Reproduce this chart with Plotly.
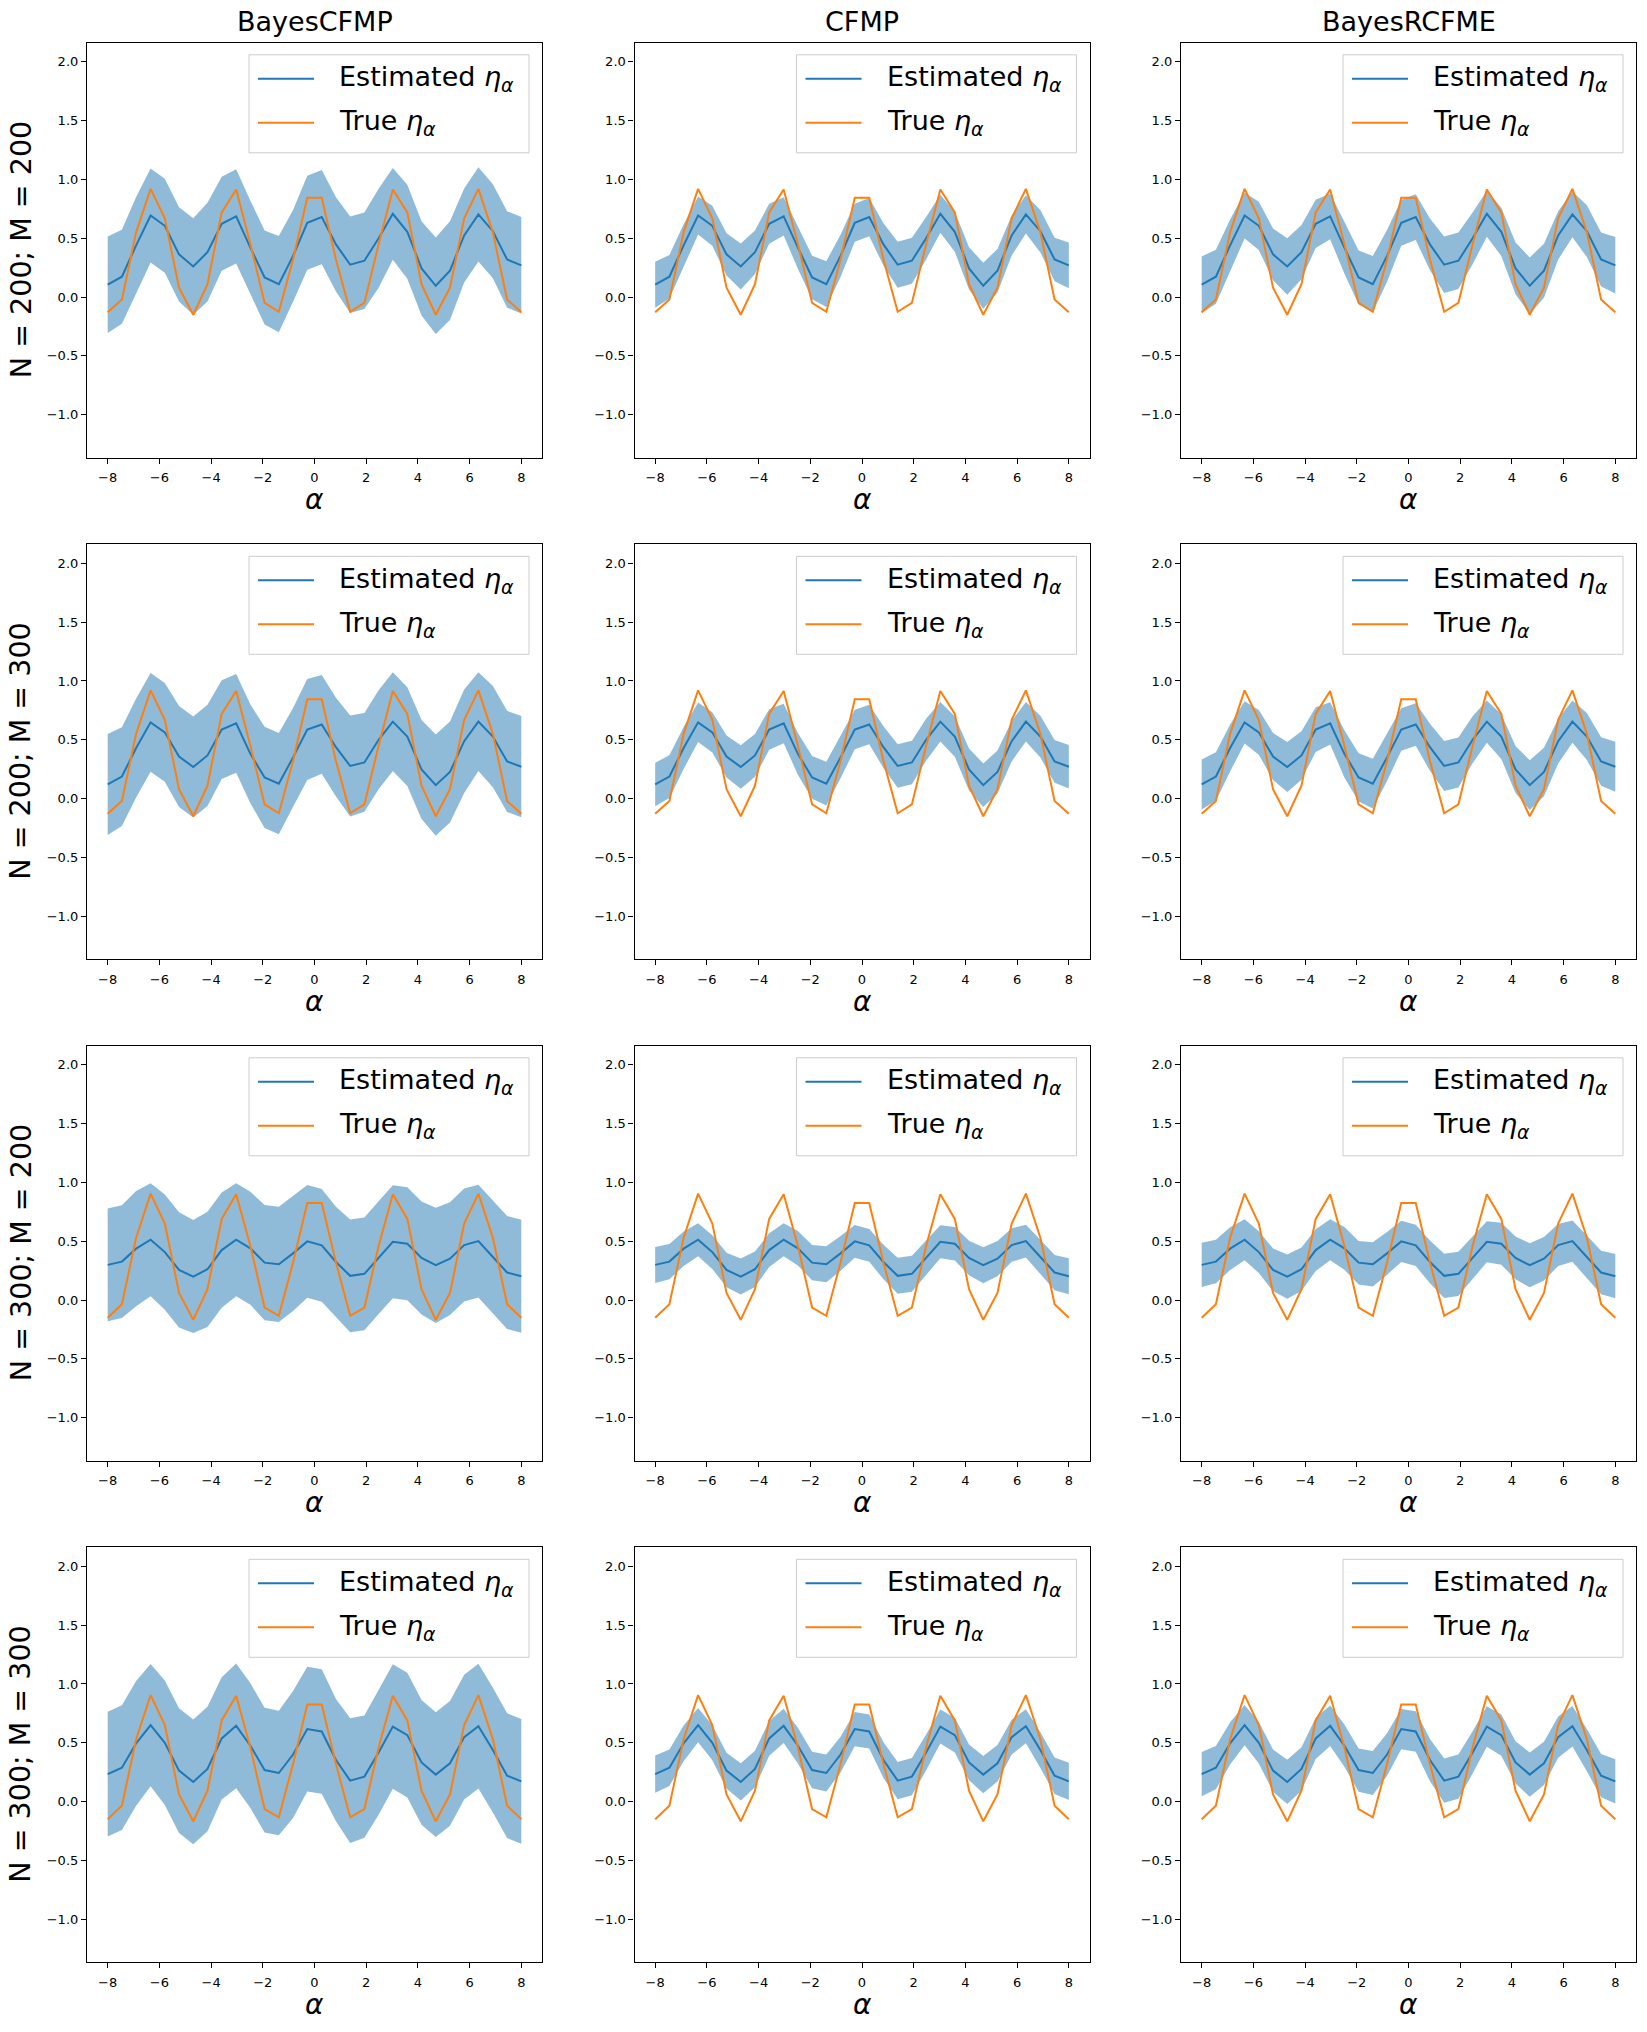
import plotly.graph_objects as go
from plotly.subplots import make_subplots

FONT = "DejaVu Sans"

methods = ["BayesCFMP", "CFMP", "BayesRCFME"]
settings = ["N = 200; M = 200", "N = 200; M = 300", "N = 300; M = 200", "N = 300; M = 300"]
legend_labels = ["Estimated <i>η</i><sub><i>α</i></sub>", "True <i>η</i><sub><i>α</i></sub>"]

alpha = [-8.00, -7.45, -6.90, -6.34, -5.79, -5.24, -4.69, -4.14, -3.59, -3.03,
         -2.48, -1.93, -1.38, -0.83, -0.28, 0.28, 0.83, 1.38, 1.93, 2.48,
         3.03, 3.59, 4.14, 4.69, 5.24, 5.79, 6.34, 6.90, 7.45, 8.00]

# true eta_alpha (same for both M values)
true_n200 = [-0.13, -0.02, 0.55, 0.92, 0.67, 0.08, -0.15, 0.11, 0.72, 0.915,
             0.45, -0.05, -0.125, 0.32, 0.845, 0.845, 0.32, -0.125, -0.05, 0.45,
             0.915, 0.72, 0.11, -0.15, 0.08, 0.67, 0.92, 0.55, -0.02, -0.13]
true_n300 = [-0.15, -0.035, 0.53, 0.905, 0.65, 0.06, -0.168, 0.093, 0.69, 0.90,
             0.46, -0.064, -0.134, 0.32, 0.825, 0.825, 0.32, -0.134, -0.064, 0.46,
             0.90, 0.69, 0.093, -0.168, 0.06, 0.65, 0.905, 0.53, -0.035, -0.15]

# estimated eta_alpha per setting (row)
est_r1 = [0.105, 0.173, 0.44, 0.694, 0.606, 0.363, 0.26, 0.382, 0.623, 0.686,
          0.42, 0.167, 0.11, 0.35, 0.632, 0.68, 0.448, 0.275, 0.309, 0.50,
          0.708, 0.555, 0.244, 0.096, 0.224, 0.524, 0.703, 0.56, 0.32, 0.27]
est_r2 = [0.12, 0.187, 0.43, 0.648, 0.563, 0.358, 0.268, 0.367, 0.587, 0.639,
          0.38, 0.18, 0.127, 0.35, 0.587, 0.63, 0.437, 0.277, 0.307, 0.50,
          0.654, 0.527, 0.247, 0.114, 0.226, 0.488, 0.654, 0.527, 0.316, 0.271]
est_r3 = [0.299, 0.327, 0.437, 0.513, 0.408, 0.256, 0.20, 0.262, 0.425, 0.513,
          0.44, 0.318, 0.304, 0.397, 0.499, 0.465, 0.324, 0.206, 0.223, 0.361,
          0.496, 0.479, 0.358, 0.296, 0.352, 0.468, 0.501, 0.366, 0.234, 0.203]
est_r4 = [0.234, 0.288, 0.495, 0.65, 0.50, 0.263, 0.167, 0.277, 0.537, 0.644,
          0.475, 0.268, 0.243, 0.40, 0.616, 0.596, 0.353, 0.178, 0.212, 0.418,
          0.638, 0.565, 0.333, 0.229, 0.325, 0.548, 0.641, 0.438, 0.22, 0.172]

# half width of the shaded band, per panel
bcfmp_r1 = [0.41, 0.40, 0.41, 0.40, 0.40, 0.40, 0.41, 0.42, 0.40, 0.40,
            0.40, 0.40, 0.41, 0.39, 0.40, 0.40, 0.40, 0.41, 0.41, 0.42,
            0.39, 0.40, 0.40, 0.41, 0.42, 0.40, 0.40, 0.40, 0.41, 0.41]
bcfmp_r2 = [0.43, 0.42, 0.42, 0.42, 0.42, 0.43, 0.43, 0.43, 0.42, 0.42,
            0.42, 0.43, 0.43, 0.42, 0.43, 0.42, 0.42, 0.43, 0.42, 0.42,
            0.42, 0.42, 0.42, 0.43, 0.43, 0.44, 0.42, 0.43, 0.43, 0.43]
bcfmp_r3 = [0.48, 0.48, 0.49, 0.48, 0.49, 0.49, 0.48, 0.49, 0.49, 0.48,
            0.48, 0.49, 0.49, 0.49, 0.48, 0.48, 0.47, 0.48, 0.48, 0.48,
            0.48, 0.48, 0.48, 0.49, 0.48, 0.48, 0.48, 0.48, 0.48, 0.48]
bcfmp_r4 = [0.53, 0.53, 0.53, 0.52, 0.53, 0.53, 0.53, 0.53, 0.52, 0.53,
            0.53, 0.53, 0.53, 0.54, 0.53, 0.53, 0.52, 0.53, 0.52, 0.53,
            0.53, 0.53, 0.53, 0.53, 0.53, 0.53, 0.53, 0.53, 0.53, 0.53]

cfmp_r1 = [0.195, 0.185, 0.18, 0.162, 0.17, 0.18, 0.195, 0.185, 0.17, 0.162,
           0.18, 0.185, 0.195, 0.18, 0.162, 0.162, 0.18, 0.195, 0.195, 0.18,
           0.162, 0.17, 0.18, 0.195, 0.185, 0.17, 0.162, 0.18, 0.185, 0.195]
cfmp_r2 = [0.185, 0.182, 0.178, 0.168, 0.172, 0.178, 0.185, 0.182, 0.172, 0.168,
           0.178, 0.182, 0.185, 0.178, 0.168, 0.168, 0.178, 0.185, 0.185, 0.178,
           0.168, 0.172, 0.178, 0.185, 0.182, 0.172, 0.168, 0.178, 0.182, 0.185]
cfmp_r3 = [0.153, 0.15, 0.147, 0.14, 0.143, 0.147, 0.153, 0.15, 0.143, 0.14,
           0.147, 0.15, 0.153, 0.147, 0.14, 0.14, 0.147, 0.153, 0.153, 0.147,
           0.14, 0.143, 0.147, 0.153, 0.15, 0.143, 0.14, 0.147, 0.15, 0.153]
cfmp_r4 = [0.158, 0.155, 0.152, 0.145, 0.148, 0.152, 0.158, 0.155, 0.148, 0.145,
           0.152, 0.155, 0.158, 0.152, 0.145, 0.145, 0.152, 0.158, 0.158, 0.152,
           0.145, 0.148, 0.152, 0.158, 0.155, 0.148, 0.145, 0.152, 0.155, 0.158]

rcfme_r1 = [0.24, 0.23, 0.22, 0.195, 0.205, 0.22, 0.24, 0.23, 0.205, 0.195,
            0.22, 0.23, 0.24, 0.22, 0.195, 0.195, 0.22, 0.24, 0.24, 0.22,
            0.195, 0.205, 0.22, 0.24, 0.23, 0.205, 0.195, 0.22, 0.23, 0.24]
rcfme_r2 = [0.212, 0.206, 0.20, 0.18, 0.19, 0.20, 0.212, 0.206, 0.19, 0.18,
            0.20, 0.206, 0.212, 0.20, 0.18, 0.18, 0.20, 0.212, 0.212, 0.20,
            0.18, 0.19, 0.20, 0.212, 0.206, 0.19, 0.18, 0.20, 0.206, 0.212]
rcfme_r3 = [0.188, 0.185, 0.182, 0.175, 0.178, 0.182, 0.188, 0.185, 0.178, 0.175,
            0.182, 0.185, 0.188, 0.182, 0.175, 0.175, 0.182, 0.188, 0.188, 0.182,
            0.175, 0.178, 0.182, 0.188, 0.185, 0.178, 0.175, 0.182, 0.185, 0.188]
rcfme_r4 = [0.188, 0.184, 0.18, 0.172, 0.176, 0.18, 0.188, 0.184, 0.176, 0.172,
            0.18, 0.184, 0.188, 0.18, 0.172, 0.172, 0.18, 0.188, 0.188, 0.18,
            0.172, 0.176, 0.18, 0.188, 0.184, 0.176, 0.172, 0.18, 0.184, 0.188]

truth = [true_n200, true_n200, true_n300, true_n300]
estimates = [est_r1, est_r2, est_r3, est_r4]
bands = [[bcfmp_r1, cfmp_r1, rcfme_r1],
         [bcfmp_r2, cfmp_r2, rcfme_r2],
         [bcfmp_r3, cfmp_r3, rcfme_r3],
         [bcfmp_r4, cfmp_r4, rcfme_r4]]

W, H = 1647, 2032
OFF = 8  # the html body margin pushes the figure 8px right and down
col_px = [(87, 542), (634.5, 1089.5), (1181, 1636)]
row_px = [(42.8, 457.6), (544.3, 959.1), (1045.8, 1460.6), (1547.3, 1962.1)]
BLUE, ORANGE = "#1f77b4", "#ff7f0e"


def px(x):
    return (x - OFF) / W


def py(y):
    return 1 - (y - OFF) / H


fig = make_subplots(rows=4, cols=3)
annotations = []
shapes = []

for r in range(4):
    for c in range(3):
        idx = r * 3 + c + 1
        x0, x1 = col_px[c]
        y0, y1 = row_px[r]
        sfx = "" if idx == 1 else str(idx)
        fig.layout["xaxis" + sfx].domain = [px(x0), px(x1)]
        fig.layout["yaxis" + sfx].domain = [py(y1), py(y0)]

        mean = estimates[r]
        hw = bands[r][c]
        upper = [m + h for m, h in zip(mean, hw)]
        lower = [m - h for m, h in zip(mean, hw)]

        fig.add_trace(go.Scatter(x=alpha + alpha[::-1], y=upper + lower[::-1],
                                 fill="toself", fillcolor="rgba(31,119,180,0.5)",
                                 line=dict(width=0), mode="lines",
                                 showlegend=False, hoverinfo="skip"),
                      row=r + 1, col=c + 1)
        fig.add_trace(go.Scatter(x=alpha, y=mean, mode="lines",
                                 line=dict(color=BLUE, width=2),
                                 name="Estimated", showlegend=False),
                      row=r + 1, col=c + 1)
        fig.add_trace(go.Scatter(x=alpha, y=truth[r], mode="lines",
                                 line=dict(color=ORANGE, width=2),
                                 name="True", showlegend=False),
                      row=r + 1, col=c + 1)

        # legend box in the upper right corner of every panel
        bl, bt = x1 - 13 - 280, y0 + 12
        shapes.append(dict(type="rect", xref="paper", yref="paper",
                           x0=px(bl), x1=px(bl + 280), y0=py(bt + 98), y1=py(bt),
                           line=dict(color="#cccccc", width=1),
                           fillcolor="rgba(255,255,255,0.8)", layer="above"))
        for k, (label, colr) in enumerate(zip(legend_labels, [BLUE, ORANGE])):
            ly = bt + 24 + 44 * k
            shapes.append(dict(type="line", xref="paper", yref="paper",
                               x0=px(bl + 9), x1=px(bl + 65), y0=py(ly), y1=py(ly),
                               line=dict(color=colr, width=2), layer="above"))
            annotations.append(dict(x=px(bl + 88), y=py(ly), xref="paper", yref="paper",
                                    text=label, showarrow=False, xanchor="left",
                                    yanchor="middle",
                                    font=dict(family=FONT, size=27, color="black")))

        # alpha label under each panel
        annotations.append(dict(x=px((x0 + x1) / 2), y=py(y1), xref="paper", yref="paper",
                                text="<i>α</i>", showarrow=False, xanchor="center",
                                yanchor="middle", yshift=-42,
                                font=dict(family=FONT, size=28, color="black")))
        if r == 0:
            annotations.append(dict(x=px((x0 + x1) / 2), y=py(y0), xref="paper", yref="paper",
                                    text=methods[c], showarrow=False, xanchor="center",
                                    yanchor="bottom", yshift=4,
                                    font=dict(family=FONT, size=27, color="black")))
        if c == 0:
            annotations.append(dict(x=px(21), y=py((y0 + y1) / 2), xref="paper", yref="paper",
                                    text=settings[r], showarrow=False, textangle=-90,
                                    xanchor="center", yanchor="middle",
                                    font=dict(family=FONT, size=28.5, color="black")))

fig.update_xaxes(range=[-8.8, 8.8], tickvals=[-8, -6, -4, -2, 0, 2, 4, 6, 8],
                 showline=True, mirror=True, linecolor="black", linewidth=1.2,
                 ticks="outside", ticklen=5, tickwidth=1, tickcolor="black",
                 ticklabelstandoff=3,
                 showgrid=False, zeroline=False,
                 tickfont=dict(family=FONT, size=13, color="black"))
fig.update_yaxes(range=[-1.365, 2.162], tickvals=[-1.0, -0.5, 0.0, 0.5, 1.0, 1.5, 2.0],
                 tickformat=".1f",
                 showline=True, mirror=True, linecolor="black", linewidth=1.2,
                 ticks="outside", ticklen=5, tickwidth=1, tickcolor="black",
                 showgrid=False, zeroline=False,
                 tickfont=dict(family=FONT, size=13, color="black"))

fig.update_layout(width=W, height=H, margin=dict(l=0, r=0, t=0, b=0),
                  plot_bgcolor="white", paper_bgcolor="white",
                  font=dict(family=FONT, color="black"), showlegend=False,
                  annotations=annotations, shapes=shapes)

fig.write_html("out.html")
